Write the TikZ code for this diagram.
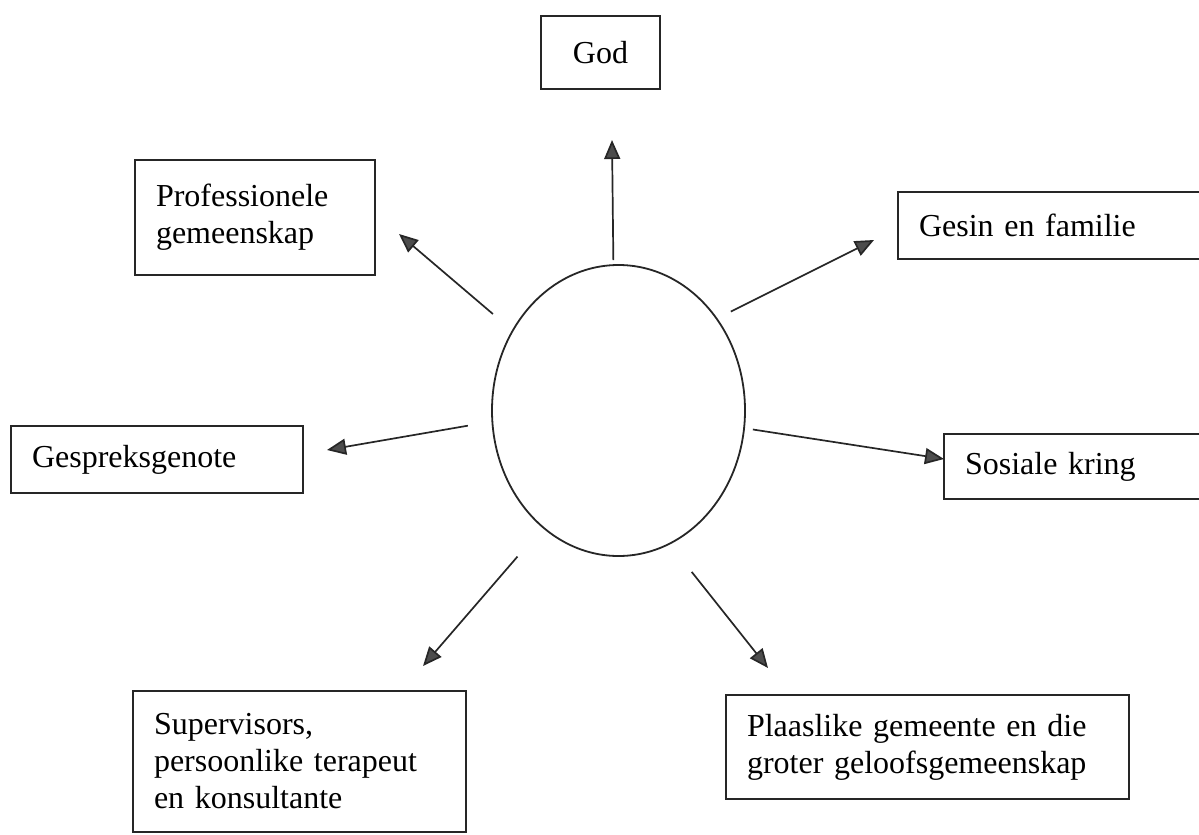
\documentclass[tikz,border=0pt]{standalone}
\usepackage{fontspec}
\setmainfont{Liberation Serif}
\usetikzlibrary{arrows.meta,shapes.geometric}

\begin{document}
\begin{tikzpicture}[
    x=1pt, y=-1pt,
    box/.style={draw=black!85, line width=1.8pt, inner xsep=21pt, inner ysep=0pt,
        align=left, font=\fontsize{32}{37}\selectfont},
    link/.style={-{Triangle[length=19pt, width=16pt, fill=black!70]},
        draw=black!85, line width=1.7pt}
]
\useasboundingbox (0,0) rectangle (1199,835);
\node[draw=black!85, ellipse, line width=1.8pt,
    minimum width=253pt, minimum height=291pt] (hub) at (618.5,410.5) {};
\node[box, align=center, text width=77pt, minimum height=73pt] (god) at (600.5,52.5) {God};
\node[box, text width=198pt, minimum height=115pt] (prof) at (255,217.5) {Professionele\\gemeenskap};
\node[box, text width=278pt, minimum height=67pt] (gesin) at (1058,225.5) {Gesin en familie};
\node[box, text width=250pt, minimum height=67pt] (gesprek) at (157,459.5) {Gespreksgenote};
\node[box, text width=228pt, minimum height=65pt] (sosiaal) at (1079,466.5) {Sosiale kring};
\node[box, text width=291pt, minimum height=141pt] (super) at (299.5,761.5) {Supervisors,\\persoonlike terapeut\\en konsultante};
\node[box, text width=361pt, minimum height=104pt] (plaas) at (927.5,747) {Plaaslike gemeente en die\\groter geloofsgemeenskap};
% arrow tips, just short of the boxes
\coordinate (godtip) at (612,140);
\coordinate (proftip) at (399,234);
\coordinate (gesintip) at (874,240);
\coordinate (gesprektip) at (327,450);
\coordinate (sosiaaltip) at (944,459);
\coordinate (supertip) at (423,666);
\coordinate (plaastip) at (768,668);
\draw[link, shorten <=4pt] (hub.92.6) -- (godtip);
\draw[link, shorten <=25pt] (hub.143.8) -- (proftip);
\draw[link, shorten <=15pt] (hub.43.7) -- (gesintip);
\draw[link, shorten <=24pt] (hub.185.2) -- (gesprektip);
\draw[link, shorten <=8pt] (hub.-8.3) -- (sosiaaltip);
\draw[link, shorten <=38pt] (hub.-123.7) -- (supertip);
\draw[link, shorten <=35pt] (hub.-69.1) -- (plaastip);
\end{tikzpicture}
\end{document}
